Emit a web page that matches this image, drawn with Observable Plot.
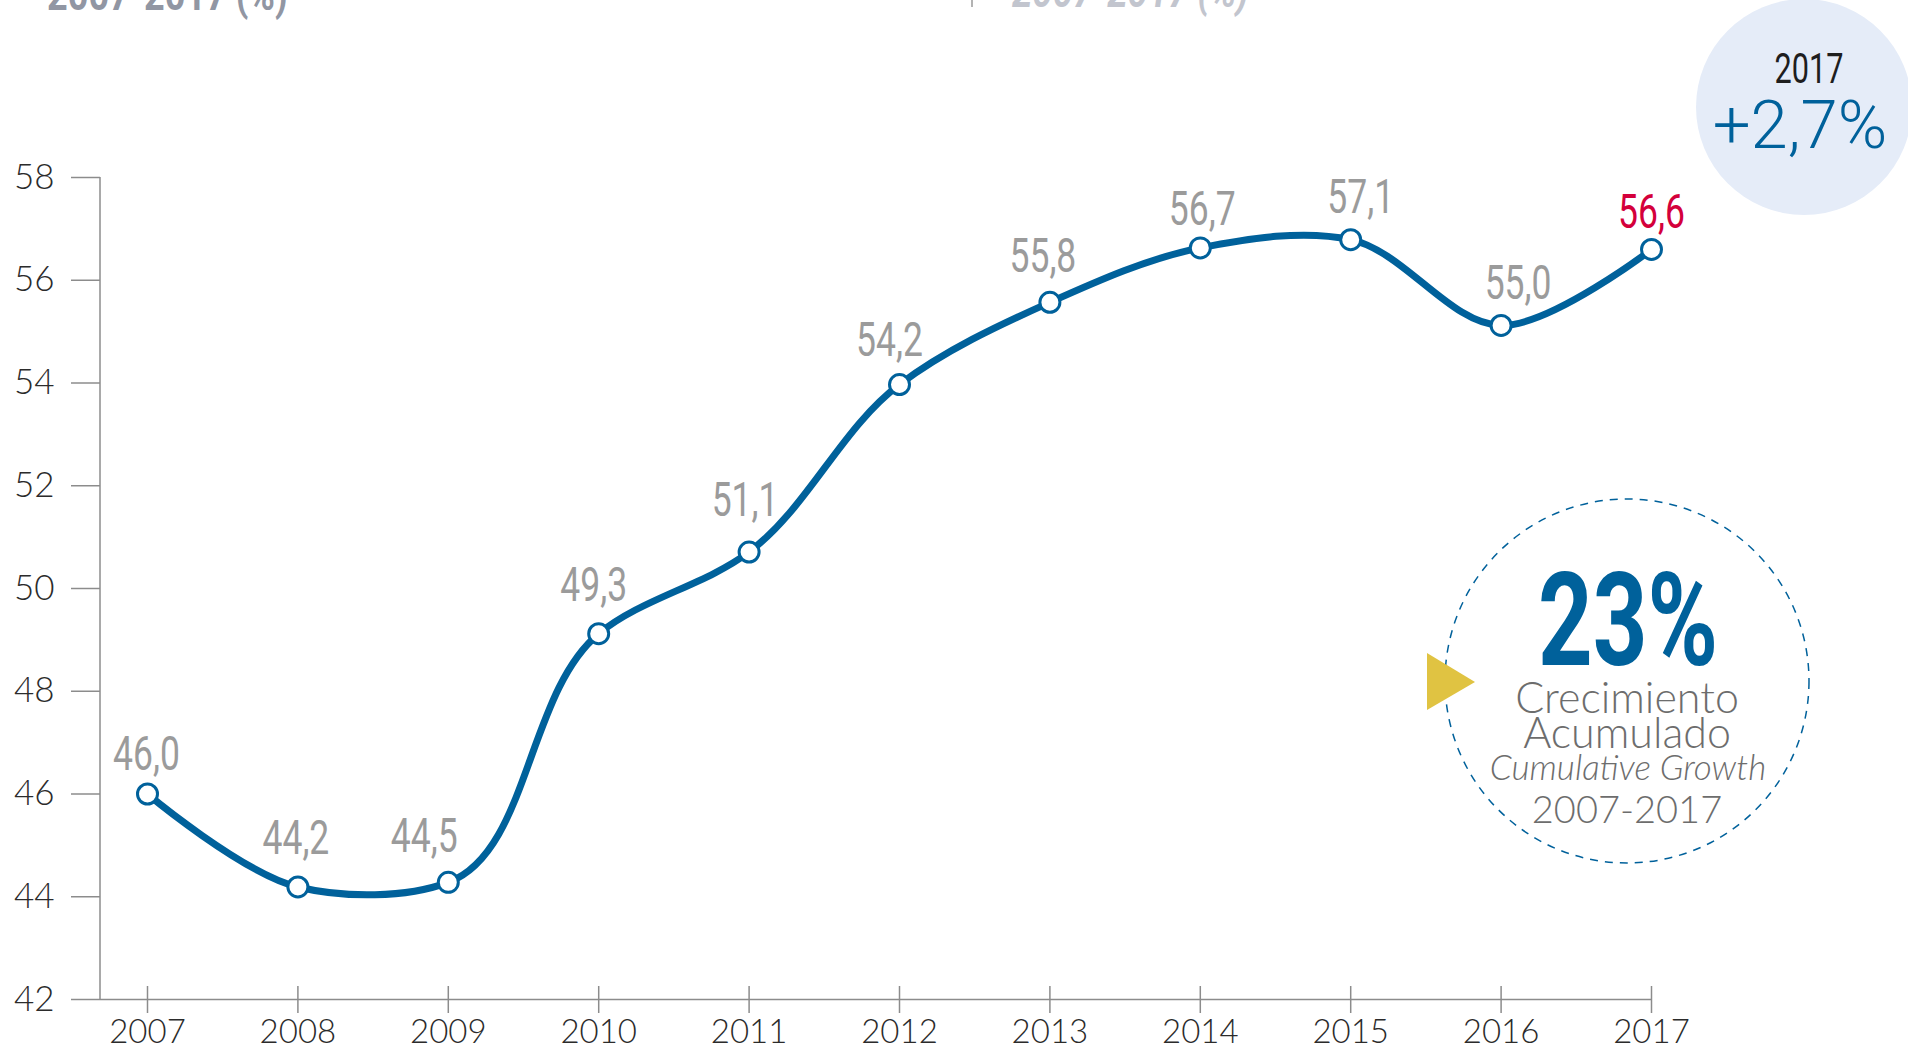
<!DOCTYPE html>
<html>
<head>
<meta charset="utf-8">
<script src="https://cdn.jsdelivr.net/npm/d3@7"></script>
<script src="https://cdn.jsdelivr.net/npm/@observablehq/plot@0.6"></script>
<style>
  body { margin: 0; background: #ffffff; }
  #wrap { position: relative; width: 1908px; height: 1051px; overflow: hidden; }
  #wrap svg { position: absolute; left: 0; top: 0; }
</style>
</head>
<body>
<div id="wrap"></div>
<script>
// ---- data ----
const years = [2007, 2008, 2009, 2010, 2011, 2012, 2013, 2014, 2015, 2016, 2017];
const values = [46.0, 44.19, 44.28, 49.12, 50.71, 53.97, 55.57, 56.63, 56.79, 55.12, 56.60];
const valueLabels = ["46,0", "44,2", "44,5", "49,3", "51,1", "54,2", "55,8", "56,7", "57,1", "55,0", "56,6"];
const yTicks = [42, 44, 46, 48, 50, 52, 54, 56, 58];
const highlightYear = 2017;
const headerText = "2007-2017 (%)";
const badgeYear = "2017";
const badgeValue = "+2,7%";
const cumulativeValue = "23%";
const cumulativeLines = ["Crecimiento", "Acumulado"];
const cumulativeEnglish = "Cumulative Growth";
const cumulativePeriod = "2007-2017";

const data = years.map((year, i) => ({ year, value: values[i], label: valueLabels[i] }));

// ---- style: label placement nudges (pixels) ----
const labelNudge = {
  2007: [-1, -24], 2008: [-2, -33], 2009: [-24, -30], 2010: [-5, -33], 2011: [-4, -36],
  2012: [-10, -29], 2013: [-7, -30], 2014: [2, -23], 2015: [10, -27], 2016: [17, -26], 2017: [0, -21]
};

const BLUE = "#00619b";
const AXIS = "#8c8c8c";

// y-axis vertical line drawn along the left edge of the frame
const leftLine = (index, scales, vals, dim) => {
  const l = document.createElementNS("http://www.w3.org/2000/svg", "line");
  l.setAttribute("x1", dim.marginLeft);
  l.setAttribute("x2", dim.marginLeft);
  l.setAttribute("y1", dim.marginTop);
  l.setAttribute("y2", dim.height - dim.marginBottom);
  l.setAttribute("stroke", AXIS);
  l.setAttribute("stroke-width", 1.5);
  return l;
};

const labelMarks = data.map(d => Plot.text([d], {
  x: "year", y: "value", text: "label",
  dx: labelNudge[d.year][0], dy: labelNudge[d.year][1],
  lineAnchor: "bottom", fontSize: 48, fontFamily: "Roboto, sans-serif",
  fill: d.year === highlightYear ? "#d4003b" : "#9b9b9b"
}));

const chart = Plot.plot({
  width: 1908,
  height: 1051,
  marginLeft: 100,
  marginRight: 257,
  marginTop: 177,
  marginBottom: 52,
  x: { domain: [2007, 2017], range: [147, 1651] },
  y: { domain: [42, 58] },
  style: { background: "transparent", fontFamily: "Lato, sans-serif", color: "#2b2b2b" },
  marks: [
    Plot.axisY({ ticks: yTicks, tickSize: 29, tickPadding: 17, fontSize: 35, fontWeight: 300,
      stroke: AXIS, strokeWidth: 1.5, fill: "#2b2b2b", tickFormat: d => String(d), label: null }),
    Plot.axisX({ ticks: years, tickSize: 27, dy: -13, tickPadding: 6, fontSize: 33, fontWeight: 300,
      stroke: AXIS, strokeWidth: 1.5, fill: "#2b2b2b", tickFormat: d => String(d), label: null }),
    Plot.ruleY([42], { stroke: AXIS, strokeWidth: 1.5 }),
    leftLine,
    Plot.line(data, { x: "year", y: "value", curve: d3.curveCatmullRom.alpha(1), stroke: BLUE, strokeWidth: 7 }),
    Plot.dot(data, { x: "year", y: "value", r: 10, fill: "white", stroke: BLUE, strokeWidth: 3 }),
    ...labelMarks
  ]
});

// condense the value labels horizontally
chart.querySelectorAll('g[aria-label="text"] text').forEach(t => {
  const tr = t.getAttribute("transform");
  if (tr) {
    t.setAttribute("transform", tr + " scale(0.74,1)");
  } else {
    const x = t.getAttribute("x") || 0, y = t.getAttribute("y") || 0;
    t.removeAttribute("x"); t.removeAttribute("y");
    t.setAttribute("transform", `translate(${x},${y}) scale(0.74,1)`);
  }
});

const wrap = document.getElementById("wrap");
wrap.appendChild(chart);

// ---- annotation layer ----
const ov = d3.create("svg").attr("width", 1908).attr("height", 1051)
  .style("pointer-events", "none");

function label(txt, cx, by, opts) {
  const t = ov.append("text")
    .attr("transform", `translate(${cx},${by}) scale(${opts.sx || 1},1)`)
    .attr("text-anchor", opts.anchor || "middle")
    .attr("font-family", opts.font || "Lato, sans-serif")
    .attr("font-size", opts.size)
    .attr("font-weight", opts.weight || 400)
    .attr("fill", opts.fill)
    .text(txt);
  if (opts.italic) t.attr("font-style", "italic");
  return t;
}

// header remnants (cut at top)
label(headerText, 47, 10, { anchor: "start", font: "Roboto, sans-serif", size: 44, weight: 700, fill: "#9196a3", sx: 0.82 });
ov.append("line").attr("x1", 972).attr("x2", 972).attr("y1", 0).attr("y2", 7).attr("stroke", "#9a9a9a").attr("stroke-width", 1.5);
label(headerText, 1012, 7, { anchor: "start", font: "Roboto, sans-serif", size: 44, weight: 700, fill: "#c2c5ce", sx: 0.83, italic: true });

// top-right badge
ov.append("circle").attr("cx", 1804).attr("cy", 107).attr("r", 108).attr("fill", "#e5ecf8");
label(badgeYear, 1809, 83, { font: "Roboto, sans-serif", size: 42, weight: 400, fill: "#1e1e1e", sx: 0.73 });
label(badgeValue, 1800, 148, { font: "Roboto, sans-serif", size: 67, weight: 300, fill: BLUE });

// cumulative growth bubble
ov.append("circle").attr("cx", 1627).attr("cy", 681).attr("r", 182)
  .attr("fill", "none").attr("stroke", BLUE).attr("stroke-width", 1.5).attr("stroke-dasharray", "8,7");
ov.append("path").attr("d", "M1427,653 L1475,682 L1427,710 Z").attr("fill", "#e0c342");
label(cumulativeValue, 1628, 665, { font: "Roboto, sans-serif", size: 129, weight: 700, fill: BLUE, sx: 0.74 });
label(cumulativeLines[0], 1627, 713, { size: 43, weight: 300, fill: "#6d6d6d" });
label(cumulativeLines[1], 1627, 748, { size: 43, weight: 300, fill: "#6d6d6d" });
label(cumulativeEnglish, 1628, 780, { size: 35, weight: 300, fill: "#6d6d6d", italic: true });
label(cumulativePeriod, 1627, 823, { size: 38, weight: 300, fill: "#6d6d6d" });

wrap.appendChild(ov.node());
</script>
</body>
</html>
